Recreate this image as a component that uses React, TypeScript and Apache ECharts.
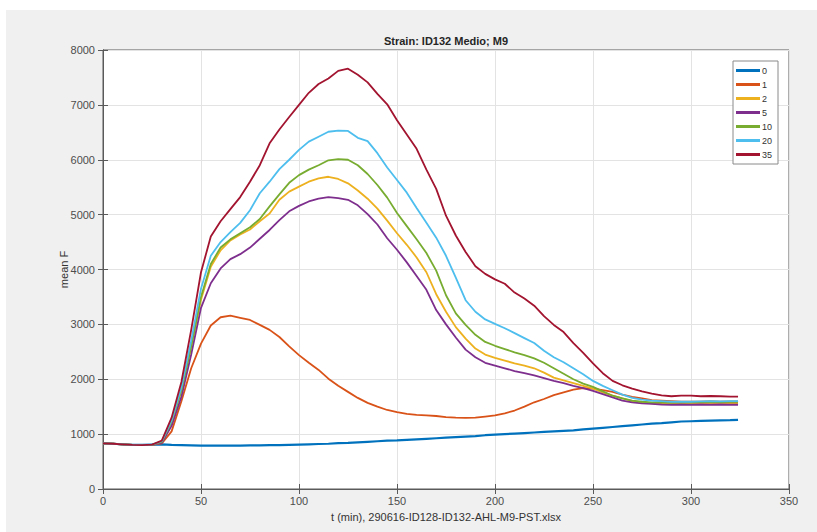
import React, { useEffect, useRef } from "react";
import * as echarts from "echarts";

const times = [0,5,10,15,20,25,30,35,40,45,50,55,60,65,70,75,80,85,90,95,100,105,110,115,120,125,130,135,140,145,150,155,160,165,170,175,180,185,190,195,200,205,210,215,220,225,230,235,240,245,250,255,260,265,270,275,280,285,290,295,300,305,310,315,320,324];

const seriesNames = ["0", "1", "2", "5", "10", "20", "35"];
const seriesColors = ["#0072BD", "#D95319", "#EDB120", "#7E2F8E", "#77AC30", "#4DBEEE", "#A2142F"];

const s0 = [830,825,815,805,805,810,812,805,800,795,790,790,790,790,790,795,795,800,800,805,810,815,820,825,835,840,850,860,870,880,885,895,905,915,925,935,945,955,965,980,990,1000,1010,1020,1030,1040,1050,1060,1070,1085,1100,1115,1130,1145,1160,1175,1190,1200,1215,1230,1235,1240,1245,1250,1255,1260];
const s1 = [830,825,815,805,800,805,830,1050,1600,2200,2650,2980,3130,3160,3120,3080,2990,2900,2770,2600,2440,2300,2170,2010,1880,1770,1660,1570,1500,1440,1400,1370,1350,1340,1330,1310,1300,1295,1300,1320,1340,1380,1430,1500,1580,1640,1710,1760,1810,1840,1830,1800,1770,1720,1680,1650,1620,1610,1600,1590,1590,1590,1595,1590,1590,1590];
const s2 = [830,825,815,805,800,805,860,1220,1780,2580,3450,4050,4350,4530,4640,4730,4880,5020,5270,5420,5510,5600,5660,5690,5650,5570,5440,5290,5110,4890,4660,4450,4220,3950,3550,3230,2950,2740,2560,2450,2390,2340,2290,2250,2200,2120,2030,1980,1930,1880,1830,1760,1700,1650,1600,1580,1560,1560,1560,1555,1560,1560,1560,1555,1560,1560];
const s5 = [830,825,815,805,800,805,840,1150,1680,2450,3300,3750,4020,4190,4280,4400,4560,4720,4900,5060,5160,5240,5290,5320,5300,5270,5170,5010,4820,4570,4360,4130,3880,3630,3260,3000,2760,2540,2400,2300,2250,2200,2150,2110,2070,2020,1970,1930,1880,1840,1790,1730,1670,1610,1580,1560,1550,1540,1535,1540,1535,1540,1535,1540,1535,1535];
const s10 = [830,825,815,805,800,805,860,1230,1800,2600,3500,4100,4400,4550,4660,4770,4920,5150,5370,5580,5720,5820,5900,5990,6010,6000,5900,5740,5540,5310,5030,4790,4550,4300,3980,3530,3200,2990,2810,2680,2610,2550,2490,2440,2380,2300,2200,2100,2000,1920,1860,1780,1700,1650,1610,1590,1580,1580,1575,1580,1580,1585,1590,1585,1590,1590];
const s20 = [830,825,815,805,800,810,870,1250,1850,2700,3650,4250,4500,4680,4850,5080,5390,5600,5830,6000,6180,6330,6420,6510,6530,6525,6400,6340,6120,5860,5630,5400,5120,4850,4580,4250,3850,3440,3230,3090,3010,2930,2840,2750,2660,2520,2400,2310,2200,2090,1970,1880,1800,1720,1660,1630,1610,1600,1590,1590,1590,1595,1600,1595,1600,1600];
const s35 = [830,825,815,805,800,810,880,1300,1950,2900,3950,4600,4880,5100,5320,5600,5900,6300,6550,6780,7000,7220,7380,7480,7620,7660,7550,7410,7200,7010,6720,6460,6200,5820,5470,4980,4620,4320,4060,3920,3820,3740,3580,3470,3340,3150,2990,2860,2660,2480,2290,2110,1970,1890,1830,1780,1740,1705,1690,1700,1700,1690,1695,1690,1685,1685];

const allSeries = [s0, s1, s2, s5, s10, s20, s35];

const xTicksMax = 350;
const yTicksMax = 8000;

export default function App() {
  const ref = useRef<HTMLDivElement>(null);
  useEffect(() => {
    if (!ref.current) return;
    const chart = echarts.init(ref.current, null, { renderer: "svg" });
    const axisLineColor = "#5a5a5a";
    const labelColor = "#4d4d4d";
    const font = "Liberation Sans, Arial, sans-serif";
    chart.setOption({
      animation: false,
      backgroundColor: "#ffffff",
      textStyle: { fontFamily: font },
      graphic: [
        {
          type: "rect",
          z: -10,
          shape: { x: 6, y: 10, width: 811, height: 522 },
          style: { fill: "#f0f0f0" },
          silent: true,
        },
      ],
      title: {
        text: "Strain: ID132 Medio; M9",
        left: 446,
        textAlign: "center",
        top: 35,
        padding: 0,
        textStyle: { fontSize: 11, fontWeight: "bold", color: "#262626", fontFamily: font },
      },
      grid: {
        left: 103,
        right: 28,
        top: 50,
        bottom: 43,
        show: true,
        backgroundColor: "#ffffff",
        borderColor: axisLineColor,
        borderWidth: 1,
      },
      legend: {
        orient: "vertical",
        left: 733,
        top: 61,
        data: seriesNames,
        icon: "rect",
        itemWidth: 24,
        itemHeight: 3,
        itemGap: 3,
        padding: [4, 6, 4, 3],
        backgroundColor: "#ffffff",
        borderColor: "#8a8a8a",
        borderWidth: 1,
        borderRadius: 0,
        textStyle: { fontSize: 9, color: "#333", lineHeight: 11, fontFamily: font, padding: [0, 0, 0, -3] },
      },
      xAxis: [
        {
          type: "value",
          min: 0,
          max: xTicksMax,
          interval: 50,
          name: "t (min), 290616-ID128-ID132-AHL-M9-PST.xlsx",
          nameLocation: "middle",
          nameGap: 22,
          nameMoveOverlap: false,
          nameTextStyle: { fontSize: 11, color: "#333", fontFamily: font },
          axisLine: { show: true, lineStyle: { color: axisLineColor } },
          axisTick: { show: true, inside: true, length: 5, lineStyle: { color: axisLineColor } },
          axisLabel: { fontSize: 11, color: labelColor, margin: 6, fontFamily: font, formatter: (v: number) => String(v) },
          splitLine: { show: true, lineStyle: { color: "#e3e3e3" } },
        },
        {
          type: "value",
          position: "top",
          min: 0,
          max: xTicksMax,
          interval: 50,
          axisLine: { show: true, lineStyle: { color: axisLineColor } },
          axisTick: { show: true, inside: true, length: 5, lineStyle: { color: axisLineColor } },
          axisLabel: { show: false },
          splitLine: { show: false },
        },
      ],
      yAxis: [
        {
          type: "value",
          min: 0,
          max: yTicksMax,
          interval: 1000,
          name: "mean F",
          nameLocation: "middle",
          nameGap: 34,
          nameMoveOverlap: false,
          nameTextStyle: { fontSize: 11, color: "#333", fontFamily: font },
          axisLine: { show: true, lineStyle: { color: axisLineColor } },
          axisTick: { show: true, inside: true, length: 5, lineStyle: { color: axisLineColor } },
          axisLabel: { fontSize: 11, color: labelColor, margin: 8, fontFamily: font, formatter: (v: number) => String(v) },
          splitLine: { show: true, lineStyle: { color: "#e3e3e3" } },
        },
        {
          type: "value",
          position: "right",
          min: 0,
          max: yTicksMax,
          interval: 1000,
          axisLine: { show: true, lineStyle: { color: axisLineColor } },
          axisTick: { show: true, inside: true, length: 5, lineStyle: { color: axisLineColor } },
          axisLabel: { show: false },
          splitLine: { show: false },
        },
      ],
      series: seriesNames.map((name, i) => ({
        name,
        type: "line",
        xAxisIndex: 0,
        yAxisIndex: 0,
        showSymbol: false,
        symbol: "none",
        color: seriesColors[i],
        lineStyle: { width: i === 0 ? 2.2 : 1.8, color: seriesColors[i] },
        data: times.map((t, k) => [t, allSeries[i][k]]),
      })),
    });
    return () => chart.dispose();
  }, []);
  return (
    <div
      ref={ref}
      style={{ position: "fixed", left: 0, top: 0, width: 817, height: 532 }}
    />
  );
}
